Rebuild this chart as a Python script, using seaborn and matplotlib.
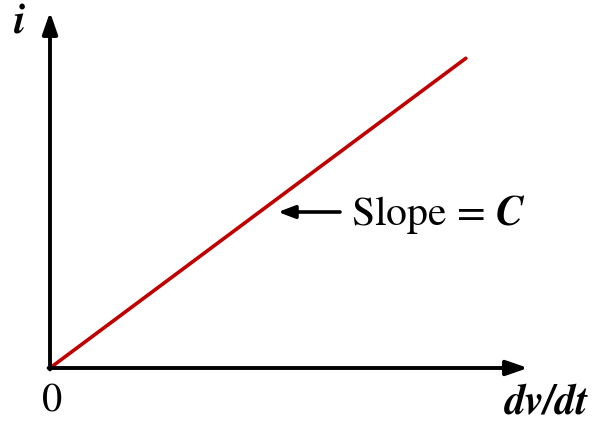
import numpy as np
import pandas as pd
import matplotlib
matplotlib.use('Agg')
import matplotlib.pyplot as plt
import seaborn as sns

# data: i = C * dv/dt (straight line through origin)
dvdt = [0.0, 0.87]
current = [0.0, 0.87]
slope_label = r'Slope = $\boldsymbol{C}$'
x_label = 'dv/dt'
y_label = 'i'
origin_label = '0'

sns.set_style('white')
plt.rcParams['font.family'] = ['STIXGeneral', 'DejaVu Serif']
plt.rcParams['mathtext.fontset'] = 'stix'
plt.rcParams['text.color'] = 'black'

W, H = 593, 421
fig = plt.figure(figsize=(W / 100, H / 100), dpi=100)
# axes box spans from origin to the arrow tips (pixel coords)
ox, oy = 50, 368
xend, ytop = 528, 12
ax = fig.add_axes([ox / W, (H - oy) / H, (xend - ox) / W, (oy - ytop) / H])
ax.set_xlim(0, 1)
ax.set_ylim(0, 1)
ax.axis('off')

df = pd.DataFrame({'dvdt': dvdt, 'i': current})
sns.lineplot(data=df, x='dvdt', y='i', ax=ax, color='#c00000', linewidth=2.6)

arrow = dict(arrowstyle='-|>,head_length=1.3,head_width=0.45', color='black',
             lw=2.8, shrinkA=0, shrinkB=0)
ax.annotate('', xy=(1, 0), xytext=(-0.003, 0), arrowprops=arrow, annotation_clip=False)
ax.annotate('', xy=(0, 1), xytext=(0, -0.004), arrowprops=arrow, annotation_clip=False)

# slope annotation
slope_arrow = dict(arrowstyle='-|>,head_length=1.0,head_width=0.38', color='black',
                   lw=2.6, shrinkA=0, shrinkB=0)
ax.annotate('', xy=((278 - ox) / 478, (oy - 212) / 356),
            xytext=((340 - ox) / 478, (oy - 212) / 356),
            arrowprops=slope_arrow, annotation_clip=False)
fig.text(351 / W, 1 - 214 / H, slope_label, fontsize=30, va='center', ha='left')

fig.text(505 / W, 1 - 403 / H, x_label, fontsize=30, va='center', ha='left',
         fontweight='bold', fontstyle='italic')
fig.text(20 / W, 1 - 23 / H, y_label, fontsize=30, va='center', ha='center',
         fontweight='bold', fontstyle='italic')
fig.text(52 / W, 1 - 402 / H, origin_label, fontsize=29, va='center', ha='center')

fig.savefig('out.png', dpi=100)
